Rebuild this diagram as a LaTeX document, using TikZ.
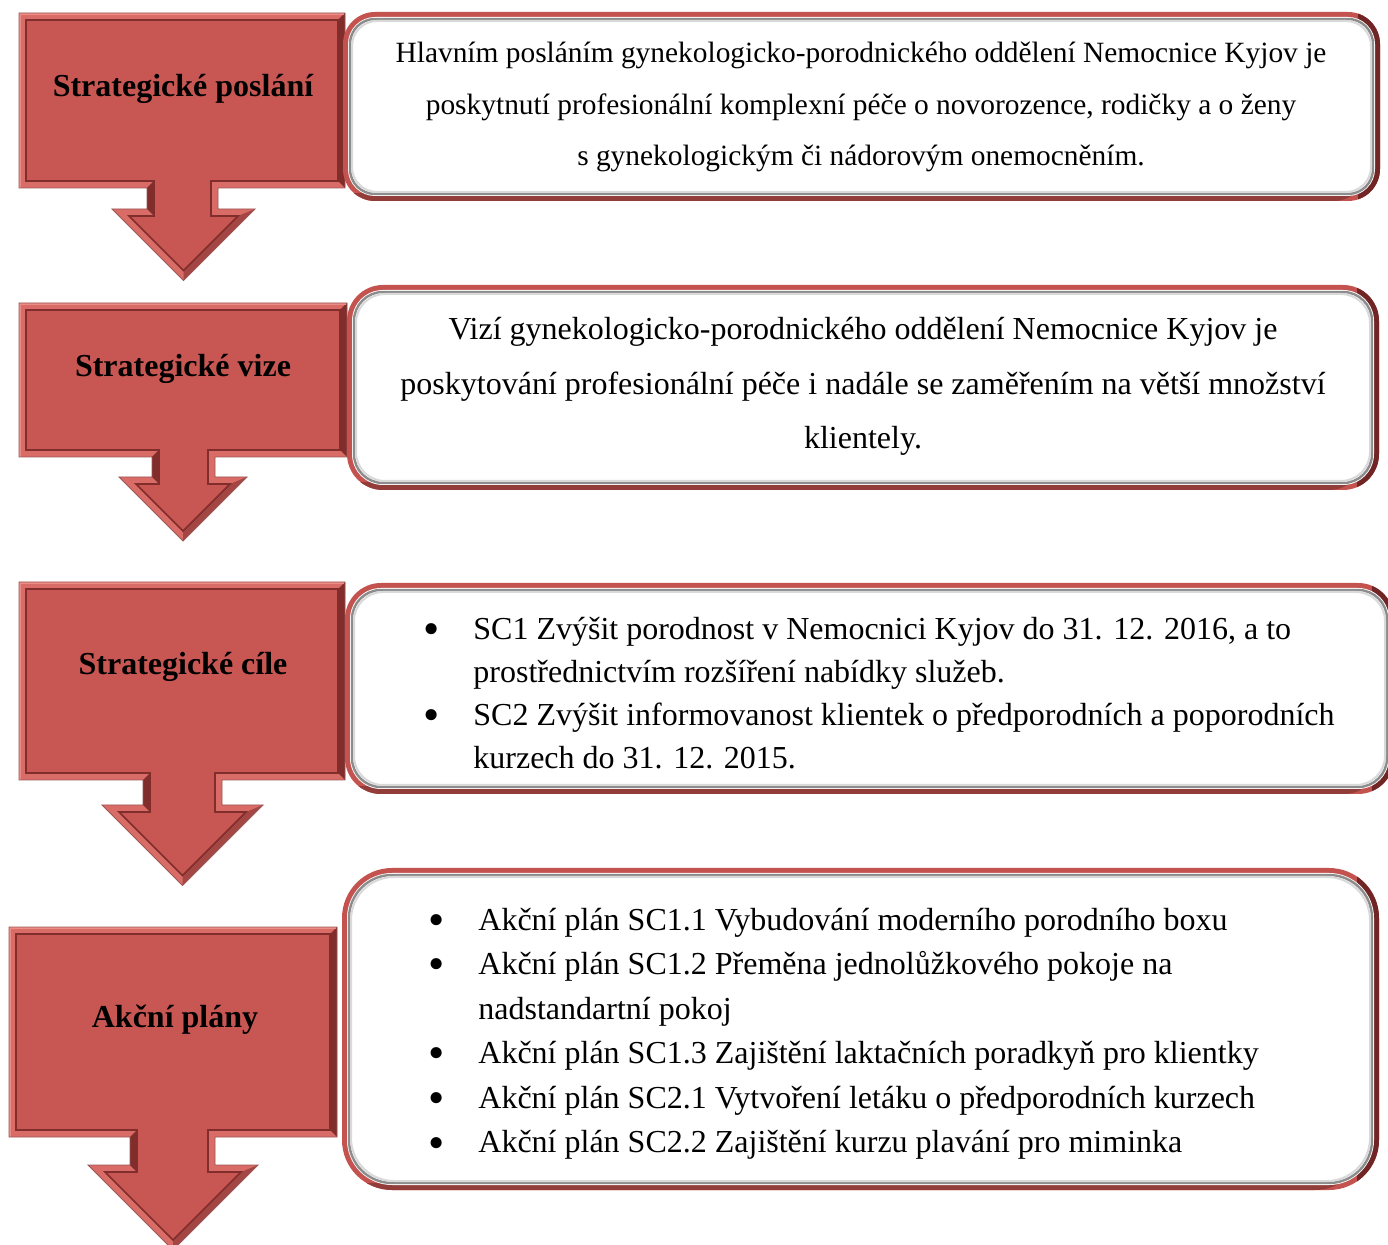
\documentclass[tikz,border=0pt]{standalone}
\usepackage{fontspec}
\setmainfont{Liberation Serif}
\usetikzlibrary{calc}
\definecolor{cred}{RGB}{200,87,83}
\definecolor{cdark}{RGB}{128,45,43}
\definecolor{clight}{RGB}{218,108,103}
\definecolor{chigh}{RGB}{236,140,135}
\definecolor{rim}{RGB}{196,82,79}
\definecolor{rimdark}{RGB}{112,38,36}
\tikzset{
  lbl/.style={font=\bfseries\fontsize{16}{18}\selectfont, anchor=base, inner sep=0pt},
  boxtext/.style={inner sep=0pt},
}
\newcommand\bul{\makebox[23.5pt][l]{\hspace{-1.5pt}\raisebox{-2.5pt}{\scalebox{1.45}{\textbullet}}}}
% callout: L T R B shaftL shaftR headTop headL headR
\newcommand\callout[9]{%
  \pgfmathsetmacro\tipx{(#8+#9)/2}%
  \pgfmathsetmacro\tipy{#7+(#9-#8)/2}%
  \pgfmathsetmacro\hLi{#8+16.9}%
  \pgfmathsetmacro\hRi{#9-16.9}%
  \pgfmathsetmacro\tipyi{\tipy-9.9}%
  \fill[clight] (#1,#2) -- (#3,#2) -- (#3,#4) -- (#6,#4) -- (#6,#7) -- (#9,#7) -- (\tipx,\tipy) -- (#8,#7) -- (#5,#7) -- (#5,#4) -- (#1,#4) -- cycle;
  \fill[cdark] (#3,#2) -- (#3,#4) -- ({#3-7},{#4-7}) -- ({#3-7},{#2+7}) -- cycle;
  \fill[cdark] (#5,#4) -- (#5,#7) -- ({#5+7},{#7+7}) -- ({#5+7},{#4-7}) -- cycle;
  \fill[cdark!60!clight] (#9,#7) -- (\tipx,\tipy) -- (\tipx,\tipyi) -- (\hRi,{#7+7}) -- cycle;
  \fill[cred] ({#1+7},{#2+7}) -- ({#3-7},{#2+7}) -- ({#3-7},{#4-7}) -- ({#6-7},{#4-7}) -- ({#6-7},{#7+7}) -- (\hRi,{#7+7}) -- (\tipx,\tipyi) -- (\hLi,{#7+7}) -- ({#5+7},{#7+7}) -- ({#5+7},{#4-7}) -- ({#1+7},{#4-7}) -- cycle;
  \draw[cdark, line width=0.8pt, line join=miter] ({#1+7},{#2+7}) -- ({#3-7},{#2+7}) -- ({#3-7},{#4-7}) -- ({#6-7},{#4-7}) -- ({#6-7},{#7+7}) -- (\hRi,{#7+7}) -- (\tipx,\tipyi) -- (\hLi,{#7+7}) -- ({#5+7},{#7+7}) -- ({#5+7},{#4-7}) -- ({#1+7},{#4-7}) -- cycle;
  \draw[chigh, line width=0.7pt] ({#1+1},#4) -- ({#1+1},{#2+1}) -- ({#3-1},{#2+1});
  \draw[cdark!80, line width=0.4pt] (#1,#2) -- (#3,#2) -- (#3,#4) -- (#6,#4) -- (#6,#7) -- (#9,#7) -- (\tipx,\tipy) -- (#8,#7) -- (#5,#7) -- (#5,#4) -- (#1,#4) -- cycle;
}
% rounded box: L T R B outer-radius(pt)
\newcommand\rbox[5]{%
  \pgfmathsetmacro\rin{#5-2.5}%
  \pgfmathsetmacro\rsh{#5-3.5}%
  \fill[rim, rounded corners=#5pt] (#1,#2) rectangle (#3,#4);
  \begin{scope}
    \clip ({#3-22},{#2-5}) rectangle ({#3+5},{#4+5});
    \fill[rimdark, rounded corners=#5pt] (#1,#2) rectangle (#3,#4);
  \end{scope}
  \begin{scope}
    \clip ({#1-5},{#4-7}) rectangle ({#3+5},{#4+5});
    \fill[rim!75!black, rounded corners=#5pt] (#1,#2) rectangle ({#3-14},#4);
  \end{scope}
  \fill[white, rounded corners=\rin pt] ({#1+5},{#2+5}) rectangle ({#3-5},{#4-5});
  \draw[black!45, line width=1.2pt, rounded corners=\rsh pt] ({#1+7},{#2+7}) rectangle ({#3-7},{#4-7});
  \draw[black!15, line width=1pt, rounded corners=\rsh pt] ({#1+9},{#2+9}) rectangle ({#3-9},{#4-9});
}
\begin{document}
\begin{tikzpicture}[x=0.5pt,y=-0.5pt]
\useasboundingbox (0,0) rectangle (1388,1245);
% left callouts
\callout{19}{13}{345}{188}{147}{218}{209}{112}{255}
\callout{19}{303}{347}{457}{152}{215}{477}{119}{247}
\callout{19}{582}{345}{780}{143}{222}{805}{102}{263}
\callout{9}{927}{337}{1137}{130}{215}{1165}{88}{258}
% rounded boxes
\rbox{343}{12}{1380}{201}{16}
\rbox{347}{285}{1379}{490}{18}
\rbox{345}{583}{1394}{794}{18}
\rbox{342}{868}{1379}{1190}{25}
% labels
\node[lbl] (l1) at (183,97) {Strategické poslání};
\node[lbl] (l2) at (183,377) {Strategické vize};
\node[lbl] (l3) at (183,675) {Strategické cíle};
\node[lbl] (l4) at (175,1027) {Akční plány};
% box texts
\node[boxtext, anchor=base, font=\fontsize{14.7}{25.75}\selectfont] (t1) at (861,63)
  {\begin{tabular}[t]{@{}c@{}}Hlavním posláním gynekologicko-porodnického oddělení Nemocnice Kyjov je\\ poskytnutí profesionální komplexní péče o novorozence, rodičky a o ženy\\ s~gynekologickým či nádorovým onemocněním.\end{tabular}};
\node[boxtext, anchor=base, font=\fontsize{16}{27.25}\selectfont] (t2) at (863,340)
  {\begin{tabular}[t]{@{}c@{}}Vizí gynekologicko-porodnického oddělení Nemocnice Kyjov je\\ poskytování profesionální péče i nadále se zaměřením na větší množství\\ klientely.\end{tabular}};
\node[boxtext, anchor=base west, font=\fontsize{16}{21.5}\selectfont] (t3) at (426,640)
  {\begin{tabular}[t]{@{}l@{}l@{}}\bul & SC1 Zvýšit porodnost v Nemocnici Kyjov do 31. 12. 2016, a to\\
   & prostřednictvím rozšíření nabídky služeb.\\
   \bul & SC2 Zvýšit informovanost klientek o předporodních a poporodních\\
   & kurzech do 31. 12. 2015.\end{tabular}};
\node[boxtext, anchor=base west, font=\fontsize{16}{22.3}\selectfont] (t4) at (431,930)
  {\begin{tabular}[t]{@{}l@{}l@{}}\bul & Akční plán SC1.1 Vybudování moderního porodního boxu\\
   \bul & Akční plán SC1.2 Přeměna jednolůžkového pokoje na\\
   & nadstandartní pokoj\\
   \bul & Akční plán SC1.3 Zajištění laktačních poradkyň pro klientky\\
   \bul & Akční plán SC2.1 Vytvoření letáku o předporodních kurzech\\
   \bul & Akční plán SC2.2 Zajištění kurzu plavání pro miminka\end{tabular}};
\end{tikzpicture}
\end{document}
